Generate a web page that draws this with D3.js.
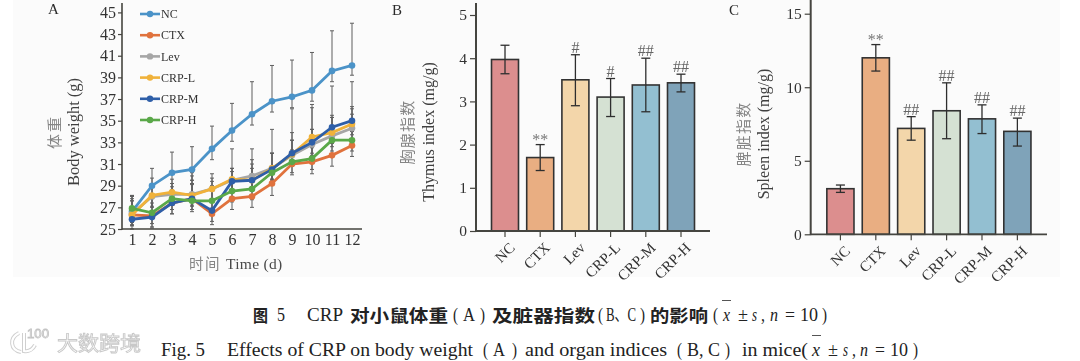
<!DOCTYPE html>
<html>
<head>
<meta charset="utf-8">
<script src="https://cdn.jsdelivr.net/npm/d3@7"></script>
<style>
  html, body { margin: 0; padding: 0; background: #fff; }
  svg { display: block; }
  text { font-family: "Liberation Serif", "Noto Sans CJK SC", serif; }
  .cjk { font-family: "Noto Sans CJK SC", sans-serif; }
</style>
</head>
<body>
<div id="chart-container"></div>
<script>
// Panel A: body weight
const days = [1, 2, 3, 4, 5, 6, 7, 8, 9, 10, 11, 12];
const weightTicks = [25, 27, 29, 31, 33, 35, 37, 39, 41, 43, 45];

const ncWeight = [26.6, 29.0, 30.2, 30.5, 32.4, 34.1, 35.6, 36.8, 37.2, 37.8, 39.6, 40.1];
const ncUpper  = [28.1, 30.6, 32.1, 32.6, 34.5, 36.6, 38.6, 40.1, 40.6, 41.3, 43.3, 44.0];
const ncLower  = [25.6, 28.0, 29.2, 29.5, 31.4, 33.1, 34.6, 35.8, 36.2, 36.8, 38.6, 39.2];

const ctxWeight = [26.3, 26.2, 27.4, 27.8, 26.4, 27.8, 28.0, 29.2, 31.0, 31.2, 31.8, 32.7];
const ctxUpper  = [27.6, 27.4, 28.6, 29.2, 27.8, 29.3, 29.5, 30.6, 32.3, 32.6, 33.2, 34.0];
const ctxLower  = [25.3, 25.2, 26.4, 26.8, 25.4, 26.8, 27.0, 28.1, 30.0, 30.1, 30.8, 31.7];

const levWeight = [26.4, 28.0, 28.2, 28.2, 28.7, 29.5, 29.9, 30.6, 31.8, 32.8, 33.6, 34.3];
const levUpper  = [27.8, 29.7, 29.6, 29.9, 29.7, 30.6, 31.4, 32.0, 33.2, 34.2, 35.3, 36.1];
const levLower  = [25.4, 27.0, 27.2, 27.2, 27.7, 28.5, 28.9, 29.6, 30.8, 31.8, 32.6, 33.3];

const crpLWeight = [26.3, 28.1, 28.4, 28.1, 28.7, 29.6, 29.5, 30.6, 31.9, 33.5, 33.9, 34.7];
const crpLUpper  = [27.6, 29.0, 29.2, 29.5, 30.1, 30.6, 31.0, 32.0, 33.9, 36.5, 35.5, 36.3];
const crpLLower  = [25.3, 27.1, 27.4, 27.1, 27.7, 28.6, 28.5, 29.6, 30.9, 32.5, 32.9, 33.7];

const crpMWeight = [25.9, 26.1, 27.4, 27.8, 26.7, 29.4, 29.5, 30.5, 32.0, 33.0, 34.4, 35.0];
const crpMUpper  = [28.1, 27.9, 28.9, 30.2, 29.0, 32.4, 32.4, 34.2, 36.1, 36.2, 38.2, 38.6];
const crpMLower  = [25.0, 25.1, 26.4, 26.8, 25.7, 28.4, 28.5, 29.5, 31.0, 32.0, 33.4, 34.0];

const crpHWeight = [26.9, 26.5, 27.8, 27.6, 27.6, 28.5, 28.7, 30.2, 31.2, 31.5, 33.2, 33.2];
const crpHUpper  = [28.0, 27.8, 29.2, 29.1, 29.4, 30.3, 30.6, 32.0, 33.2, 34.2, 35.3, 35.6];
const crpHLower  = [25.9, 25.5, 26.8, 26.6, 26.6, 27.5, 27.7, 29.2, 30.2, 30.5, 32.2, 32.2];

// Panels B and C
const groups = ["NC", "CTX", "Lev", "CRP-L", "CRP-M", "CRP-H"];
const groupColors = ["#dc8e8e", "#e9ae82", "#f3d6aa", "#d5e1d3", "#93bfd1", "#7fa3b9"];
const lineColors = ["#4b93c8", "#e0723c", "#a6a6a6", "#f0b23a", "#2f5ea8", "#5aa848"];

const thymus      = [3.97, 1.70, 3.50, 3.10, 3.38, 3.43];
const thymusUpper = [4.30, 2.00, 4.08, 3.53, 4.00, 3.63];
const thymusLower = [3.64, 1.40, 2.90, 2.65, 2.76, 3.22];
const thymusMarks = ["", "**", "#", "#", "##", "##"];
const thymusTicks = [0, 1, 2, 3, 4, 5];

const spleen      = [3.1, 12.0, 7.2, 8.4, 7.85, 7.0];
const spleenUpper = [3.35, 12.9, 8.0, 10.3, 8.8, 7.9];
const spleenLower = [2.85, 11.1, 6.4, 6.5, 6.85, 6.0];
const spleenMarks = ["", "**", "##", "##", "##", "##"];
const spleenTicks = [0, 5, 10, 15];

const W = 1080, H = 361;
const svg = d3.select("#chart-container").append("svg").attr("width", W).attr("height", H);

const defs = svg.append("defs");
defs.append("filter").attr("id", "soft").append("feGaussianBlur").attr("stdDeviation", 0.5);

svg.append("rect").attr("x", 13).attr("y", 0).attr("width", 1047).attr("height", 277).attr("fill", "#fbfbfb");

const plot = svg.append("g").attr("filter", "url(#soft)");
const axisColor = "#45443f";
const textColor = "#333";
const greyText = "#858585";

function styleAxis(g, size) {
    g.select(".domain").remove();
    g.selectAll("line").attr("stroke", axisColor).attr("stroke-width", 1.2);
    g.selectAll("text").attr("fill", textColor).style("font-size", size + "px")
        .style("font-family", '"Liberation Serif", serif');
}

function panelLetter(label, x, y) {
    plot.append("text").attr("x", x).attr("y", y).attr("fill", "#2c2c2c")
        .style("font-size", "15px").text(label);
}

function yTitle(latin, cjk, xLatin, xCjk, yMid, size) {
    plot.append("text").attr("transform", `translate(${xLatin},${yMid}) rotate(-90)`)
        .attr("text-anchor", "middle").attr("dy", "0.35em").attr("fill", "#3f3f3f")
        .style("font-size", size + "px").text(latin);
    if (!cjk) return;
    plot.append("text").attr("class", "cjk").attr("transform", `translate(${xCjk},${yMid}) rotate(-90)`)
        .attr("text-anchor", "middle").attr("dy", "0.35em").attr("fill", greyText)
        .style("font-size", "15px").style("letter-spacing", "1.2px").text(cjk);
}

// --- PANEL A ---
const xA = d3.scaleLinear().domain([1, 12]).range([132, 352]);
const yA = d3.scaleLinear().domain([25, 45]).range([229, 12.4]);

const series = [
    { name: "NC", v: ncWeight, up: ncUpper, lo: ncLower },
    { name: "CTX", v: ctxWeight, up: ctxUpper, lo: ctxLower },
    { name: "Lev", v: levWeight, up: levUpper, lo: levLower },
    { name: "CRP-L", v: crpLWeight, up: crpLUpper, lo: crpLLower },
    { name: "CRP-M", v: crpMWeight, up: crpMUpper, lo: crpMLower },
    { name: "CRP-H", v: crpHWeight, up: crpHUpper, lo: crpHLower }
];

const panelA = plot.append("g");

series.forEach(s => {
    const e = panelA.append("g").attr("stroke", "#5f5f5f").attr("stroke-width", 1);
    days.forEach((d, i) => {
        e.append("line").attr("x1", xA(d)).attr("x2", xA(d)).attr("y1", yA(s.up[i])).attr("y2", yA(s.lo[i]));
        e.append("line").attr("x1", xA(d) - 2).attr("x2", xA(d) + 2).attr("y1", yA(s.up[i])).attr("y2", yA(s.up[i]));
        e.append("line").attr("x1", xA(d) - 2).attr("x2", xA(d) + 2).attr("y1", yA(s.lo[i])).attr("y2", yA(s.lo[i]));
    });
});

const line = d3.line().x((d, i) => xA(days[i])).y(d => yA(d));
series.forEach((s, k) => {
    panelA.append("path").attr("d", line(s.v)).attr("fill", "none")
        .attr("stroke", lineColors[k]).attr("stroke-width", 2.8);
    panelA.selectAll(null).data(s.v).enter().append("circle")
        .attr("cx", (d, i) => xA(days[i])).attr("cy", d => yA(d)).attr("r", 3.3)
        .attr("fill", lineColors[k]);
});

panelA.append("g").attr("transform", "translate(122,0)")
    .call(d3.axisLeft(yA).tickValues(weightTicks).tickSize(4).tickPadding(2))
    .call(g => styleAxis(g, 16));
panelA.append("g").attr("transform", "translate(0,229)")
    .call(d3.axisBottom(xA).tickValues(days).tickFormat(d3.format("d")).tickSize(0).tickPadding(5))
    .call(g => styleAxis(g, 16));
panelA.append("line").attr("x1", 122).attr("x2", 122).attr("y1", 3).attr("y2", 229.8)
    .attr("stroke", axisColor).attr("stroke-width", 1.6);
panelA.append("line").attr("x1", 122).attr("x2", 362).attr("y1", 229).attr("y2", 229)
    .attr("stroke", axisColor).attr("stroke-width", 1.6);

// Legend
const yLegend = d3.scalePoint().domain(groups).range([14, 120]);
series.forEach((s, k) => {
    const y = yLegend(s.name);
    panelA.append("line").attr("x1", 140).attr("x2", 160).attr("y1", y).attr("y2", y)
        .attr("stroke", lineColors[k]).attr("stroke-width", 2.6);
    panelA.append("circle").attr("cx", 150).attr("cy", y).attr("r", 3.2).attr("fill", lineColors[k]);
    panelA.append("text").attr("x", 161).attr("y", y).attr("dy", "0.35em").attr("fill", textColor)
        .style("font-size", "12px").text(s.name);
});

panelLetter("A", 48, 14);
yTitle("Body weight (g)", "", 73, 55, 132, 16.5);
plot.append("text").attr("class", "cjk").attr("transform", "translate(55,132) rotate(-90)")
    .attr("text-anchor", "middle").attr("dy", "0.35em").attr("fill", greyText)
    .style("font-size", "15px").style("letter-spacing", "2px").text("体重");
plot.append("text").attr("class", "cjk").attr("x", 189).attr("y", 269).attr("fill", greyText)
    .style("font-size", "14.5px").style("letter-spacing", "1.5px").text("时间");
plot.append("text").attr("x", 226).attr("y", 269).attr("fill", "#4a4a4a")
    .style("font-size", "15.5px").style("letter-spacing", "0.3px").text("Time (d)");

// --- PANELS B, C ---
function drawBars(cfg) {
    const g = plot.append("g");
    const x = d3.scaleBand().domain(groups).range(cfg.xRange).paddingInner(0.233).paddingOuter(0.233);
    const y = d3.scaleLinear().domain(cfg.yDomain).range(cfg.yRange);
    const base = cfg.yRange[0];

    g.selectAll(".bar").data(groups).enter().append("rect")
        .attr("class", "bar")
        .attr("x", d => x(d))
        .attr("width", x.bandwidth())
        .attr("y", (d, i) => y(cfg.values[i]))
        .attr("height", (d, i) => base - y(cfg.values[i]))
        .attr("fill", (d, i) => groupColors[i])
        .attr("stroke", "#333").attr("stroke-width", 1.6);

    groups.forEach((d, i) => {
        const cx = x(d) + x.bandwidth() / 2;
        const e = g.append("g").attr("stroke", "#2e2e2e").attr("stroke-width", 1.3);
        e.append("line").attr("x1", cx).attr("x2", cx).attr("y1", y(cfg.upper[i])).attr("y2", y(cfg.lower[i]));
        e.append("line").attr("x1", cx - 4.5).attr("x2", cx + 4.5).attr("y1", y(cfg.upper[i])).attr("y2", y(cfg.upper[i]));
        e.append("line").attr("x1", cx - 4.5).attr("x2", cx + 4.5).attr("y1", y(cfg.lower[i])).attr("y2", y(cfg.lower[i]));
        if (cfg.marks[i]) {
            const star = cfg.marks[i] === "**";
            g.append("text").attr("x", cx).attr("y", y(cfg.upper[i]) + (star ? 0 : -2))
                .attr("text-anchor", "middle").attr("fill", star ? "#777" : "#666")
                .style("font-size", "16px").text(cfg.marks[i]);
        }
    });

    g.append("g").attr("transform", `translate(${cfg.axisX},0)`)
        .call(d3.axisLeft(y).tickValues(cfg.ticks).tickFormat(d3.format("d")).tickSize(6).tickPadding(3))
        .call(a => styleAxis(a, 15.5));
    const xAxis = g.append("g").attr("transform", `translate(0,${base})`)
        .call(d3.axisBottom(x).tickSize(6).tickPadding(3))
        .call(a => styleAxis(a, 15));
    xAxis.selectAll("text")
        .attr("text-anchor", "end")
        .attr("transform", "translate(7,14) rotate(-45)")
        .attr("dy", "0.35em").attr("x", 0).attr("y", 0);

    g.append("line").attr("x1", cfg.axisX).attr("x2", cfg.axisX).attr("y1", cfg.axisTop).attr("y2", base + 0.8)
        .attr("stroke", axisColor).attr("stroke-width", 2);
    g.append("line").attr("x1", cfg.axisX).attr("x2", cfg.axisEnd).attr("y1", base).attr("y2", base)
        .attr("stroke", axisColor).attr("stroke-width", 1.8);
}

drawBars({
    values: thymus, upper: thymusUpper, lower: thymusLower, marks: thymusMarks, ticks: thymusTicks,
    xRange: [483.3, 702.7], yDomain: [0, 5], yRange: [231, 15],
    axisX: 476, axisTop: 3, axisEnd: 710
});
drawBars({
    values: spleen, upper: spleenUpper, lower: spleenLower, marks: spleenMarks, ticks: spleenTicks,
    xRange: [818.6, 1039.2], yDomain: [0, 15], yRange: [234.3, 13.7],
    axisX: 810.7, axisTop: 0, axisEnd: 1047
});

panelLetter("B", 392, 15);
panelLetter("C", 729, 15);
yTitle("Thymus index (mg/g)", "胸腺指数", 428, 408, 132, 16);
yTitle("Spleen index (mg/g)", "脾脏指数", 763, 744, 134, 16);

// --- CAPTION ---
const captionTop = [
    ["图", 253, 268, 1], ["5", 277, 285, 0], ["CRP", 307, 343, 0], ["对小鼠体重", 350, 448, 1],
    ["(", 453, 458, 0], ["A", 463, 475, 0], [")", 480, 485, 0], ["及脏器指数", 492, 595, 1],
    ["(", 598, 603, 0], ["B、C", 606, 636, 0], [")", 640, 645, 0],
    ["的影响", 650, 708, 1], ["(", 713, 718, 0],
    ["±", 738, 748, 0], [",", 761, 765, 0], ["=", 785, 795, 0], ["10", 800, 818, 0], [")", 822, 827, 0]
];
const captionTopItalic = [["x", 723, 730], ["s", 752, 757], ["n", 770, 778]];
const captionBottom = [
    ["Fig. 5", 161, 205], ["Effects of CRP on body weight", 227, 473], ["(", 483, 488], ["A", 493, 505], [")", 512, 517],
    ["and organ indices", 525, 667], ["(", 677, 682], ["B, C", 687, 720], [")", 725, 730], ["in mice(", 742, 808],
    ["±", 828, 838], [",", 852, 856], ["=", 875, 885], ["10", 890, 908], [")", 913, 918]
];
const captionBottomItalic = [["x", 812, 820], ["s", 843, 848], ["n", 860, 868]];

function captionText(item, y, size, opts) {
    svg.append("text").attr("x", item[1]).attr("y", y)
        .attr("textLength", item[2] - item[1]).attr("lengthAdjust", "spacingAndGlyphs")
        .attr("fill", "#222")
        .attr("class", opts.cjk ? "cjk" : null)
        .style("font-weight", opts.cjk ? 700 : 400)
        .style("font-style", opts.italic ? "italic" : "normal")
        .style("font-size", size + "px").text(item[0]);
}
captionTop.forEach(c => captionText(c, c[3] ? 322 : 321, c[3] ? 17.5 : 19, { cjk: c[3] === 1 }));
captionTopItalic.forEach(c => captionText(c, 321, 18, { italic: true }));
captionBottom.forEach(c => captionText(c, 356, 19, {}));
captionBottomItalic.forEach(c => captionText(c, 356, 18, { italic: true }));

svg.append("line").attr("x1", 722).attr("x2", 731).attr("y1", 300.5).attr("y2", 300.5).attr("stroke", "#555");
svg.append("line").attr("x1", 812).attr("x2", 821).attr("y1", 335.5).attr("y2", 335.5).attr("stroke", "#555");

// --- WATERMARK ---
const mark = svg.append("g").attr("filter", "url(#soft)");
const logoPath = "M19,333 C9,338 10,350 21,352 M24,333 L24,351 C29,352 33,349 35,345";
mark.append("path").attr("d", logoPath).attr("fill", "none").attr("stroke", "#cfcfcf").attr("stroke-width", 4);
mark.append("path").attr("d", logoPath).attr("fill", "none").attr("stroke", "#fff").attr("stroke-width", 2);
mark.append("text").attr("x", 27).attr("y", 338).attr("textLength", 22).attr("lengthAdjust", "spacingAndGlyphs")
    .attr("fill", "#fff").attr("stroke", "#c4c4c4").attr("stroke-width", 0.8)
    .style("font-size", "12px").style("font-family", '"Liberation Sans", sans-serif').text("100");
mark.append("text").attr("class", "cjk").attr("x", 57).attr("y", 351)
    .attr("textLength", 84).attr("lengthAdjust", "spacingAndGlyphs")
    .attr("fill", "#fff").attr("stroke", "#c8c8c8").attr("stroke-width", 0.9)
    .style("font-size", "20px").text("大数跨境");
</script>
</body>
</html>
